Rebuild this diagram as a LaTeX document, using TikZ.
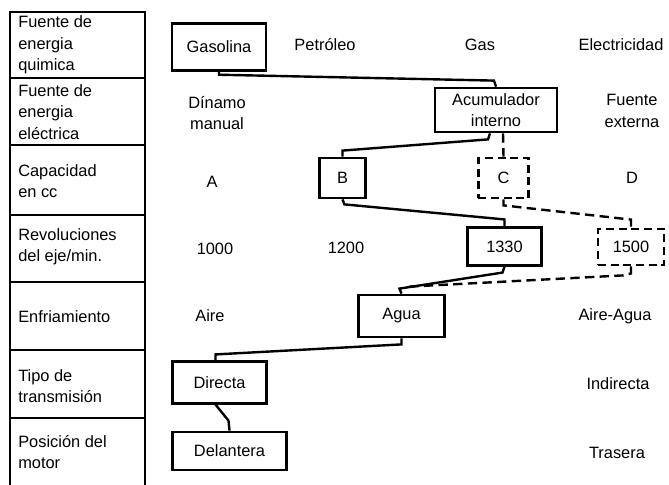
\documentclass[tikz,border=0pt]{standalone}
\usepackage{fontspec}
\setmainfont{Liberation Sans}
\usetikzlibrary{calc}

\begin{document}
\begin{tikzpicture}[
    x=0.75pt, y=-0.75pt,
    font=\fontsize{12.3}{16}\selectfont,
    rowlabel/.style={anchor=west, align=left, inner sep=0pt},
    choice/.style={align=center, inner sep=0pt},
    picked/.style={draw, line width=2.1pt, align=center, inner sep=0pt},
    maybe/.style={draw, line width=2.1pt, dash pattern=on 6pt off 3.5pt, align=center, inner sep=0pt},
    link/.style={line width=1.8pt},
    maybelink/.style={line width=1.8pt, dash pattern=on 7pt off 4pt},
]
    \useasboundingbox (0,0) rectangle (669,485);

    % left column
    \draw[line width=2.1pt] (10,485) -- (10,12) -- (145,12) -- (145,485);
    \foreach \y in {78,145,215,282,350,418} {
        \draw[line width=2.1pt] (10,\y) -- (145,\y);
    }

    \node[rowlabel] (quimica) at (18,45) {Fuente de\\energia\\quimica};
    \node[rowlabel] (electrica) at (18,112) {Fuente de\\energia\\eléctrica};
    \node[rowlabel] (capacidad) at (18,181) {Capacidad\\en cc};
    \node[rowlabel] (revoluciones) at (18,247) {Revoluciones\\del eje/min.};
    \node[rowlabel] (enfriamiento) at (18,317) {Enfriamiento};
    \node[rowlabel] (transmision) at (18,386) {Tipo de\\transmisión};
    \node[rowlabel] (posicion) at (18,452) {Posición del\\motor};

    % choices
    \node[picked, minimum width=70.5pt, minimum height=35pt] (gasolina) at (219,47) {Gasolina};
    \node[choice] (petroleo) at (325,45) {Petróleo};
    \node[choice] (gas) at (480,45) {Gas};
    \node[choice] (electricidad) at (621,45) {Electricidad};

    \node[choice] (dinamo) at (217,113) {Dínamo\\manual};
    \node[picked, minimum width=91.5pt, minimum height=33pt] (acumulador) at (496,110) {Acumulador\\interno};
    \node[choice] (externa) at (632,111) {Fuente\\externa};

    \node[choice] (capA) at (212,182) {A};
    \node[picked, minimum width=34pt, minimum height=30pt] (capB) at (342.5,178) {B};
    \node[maybe, minimum width=38pt, minimum height=30pt] (capC) at (503.5,178) {C};
    \node[choice] (capD) at (632,178) {D};

    \node[choice] (rpm1000) at (215,249) {1000};
    \node[choice] (rpm1200) at (346,248) {1200};
    \node[picked, minimum width=55pt, minimum height=28pt] (rpm1330) at (504.5,246.5) {1330};
    \node[maybe, minimum width=49.5pt, minimum height=27pt] (rpm1500) at (631,247) {1500};

    \node[choice] (aire) at (210,316) {Aire};
    \node[picked, minimum width=65pt, minimum height=31.5pt] (agua) at (401.5,316) {Agua};
    \node[choice] (aireagua) at (615,316) {Aire-Agua};

    \node[picked, minimum width=71pt, minimum height=31pt] (directa) at (219.5,382.5) {Directa};
    \node[choice] (indirecta) at (618,384) {Indirecta};

    \node[picked, minimum width=86pt, minimum height=28.5pt] (delantera) at (229.5,451) {Delantera};
    \node[choice] (trasera) at (617,453) {Trasera};

    % links
    \draw[link] (gasolina.south) -- ++(0,3) -- ($(acumulador.north)+(-2,-6)$) -- (acumulador.north);
    \draw[link] ($(acumulador.south)+(-6,0)$) -- ++(-2,6) -- ($(capB.north)+(0,-6)$) -- (capB.north);
    \draw[maybelink] ($(acumulador.south)+(7,0)$) -- (capC.north);
    \draw[link] (capB.south) -- ++(2,5) -- ($(rpm1330.north)+(0,-7)$) -- (rpm1330.north);
    \draw[maybelink] (capC.south) -- ++(0,6) -- ($(rpm1500.north)+(0,-8)$) -- (rpm1500.north);
    \draw[link] (rpm1330.south) -- ++(-2,6) -- ($(agua.north)+(-2,-5)$) -- (agua.north);
    \draw[maybelink] (rpm1500.south) -- ++(0,7) -- ++(-8,2) -- ($(agua.north)+(8,-7)$);
    \draw[link] (agua.south) -- ++(0,6) -- ($(directa.north)+(-4,-6)$) -- ($(directa.north)+(-4,0)$);
    \draw[link] ($(directa.south)+(-4,0)$) -- ($(delantera.north)+(-1,-10)$) -- (delantera.north);

\end{tikzpicture}
\end{document}
